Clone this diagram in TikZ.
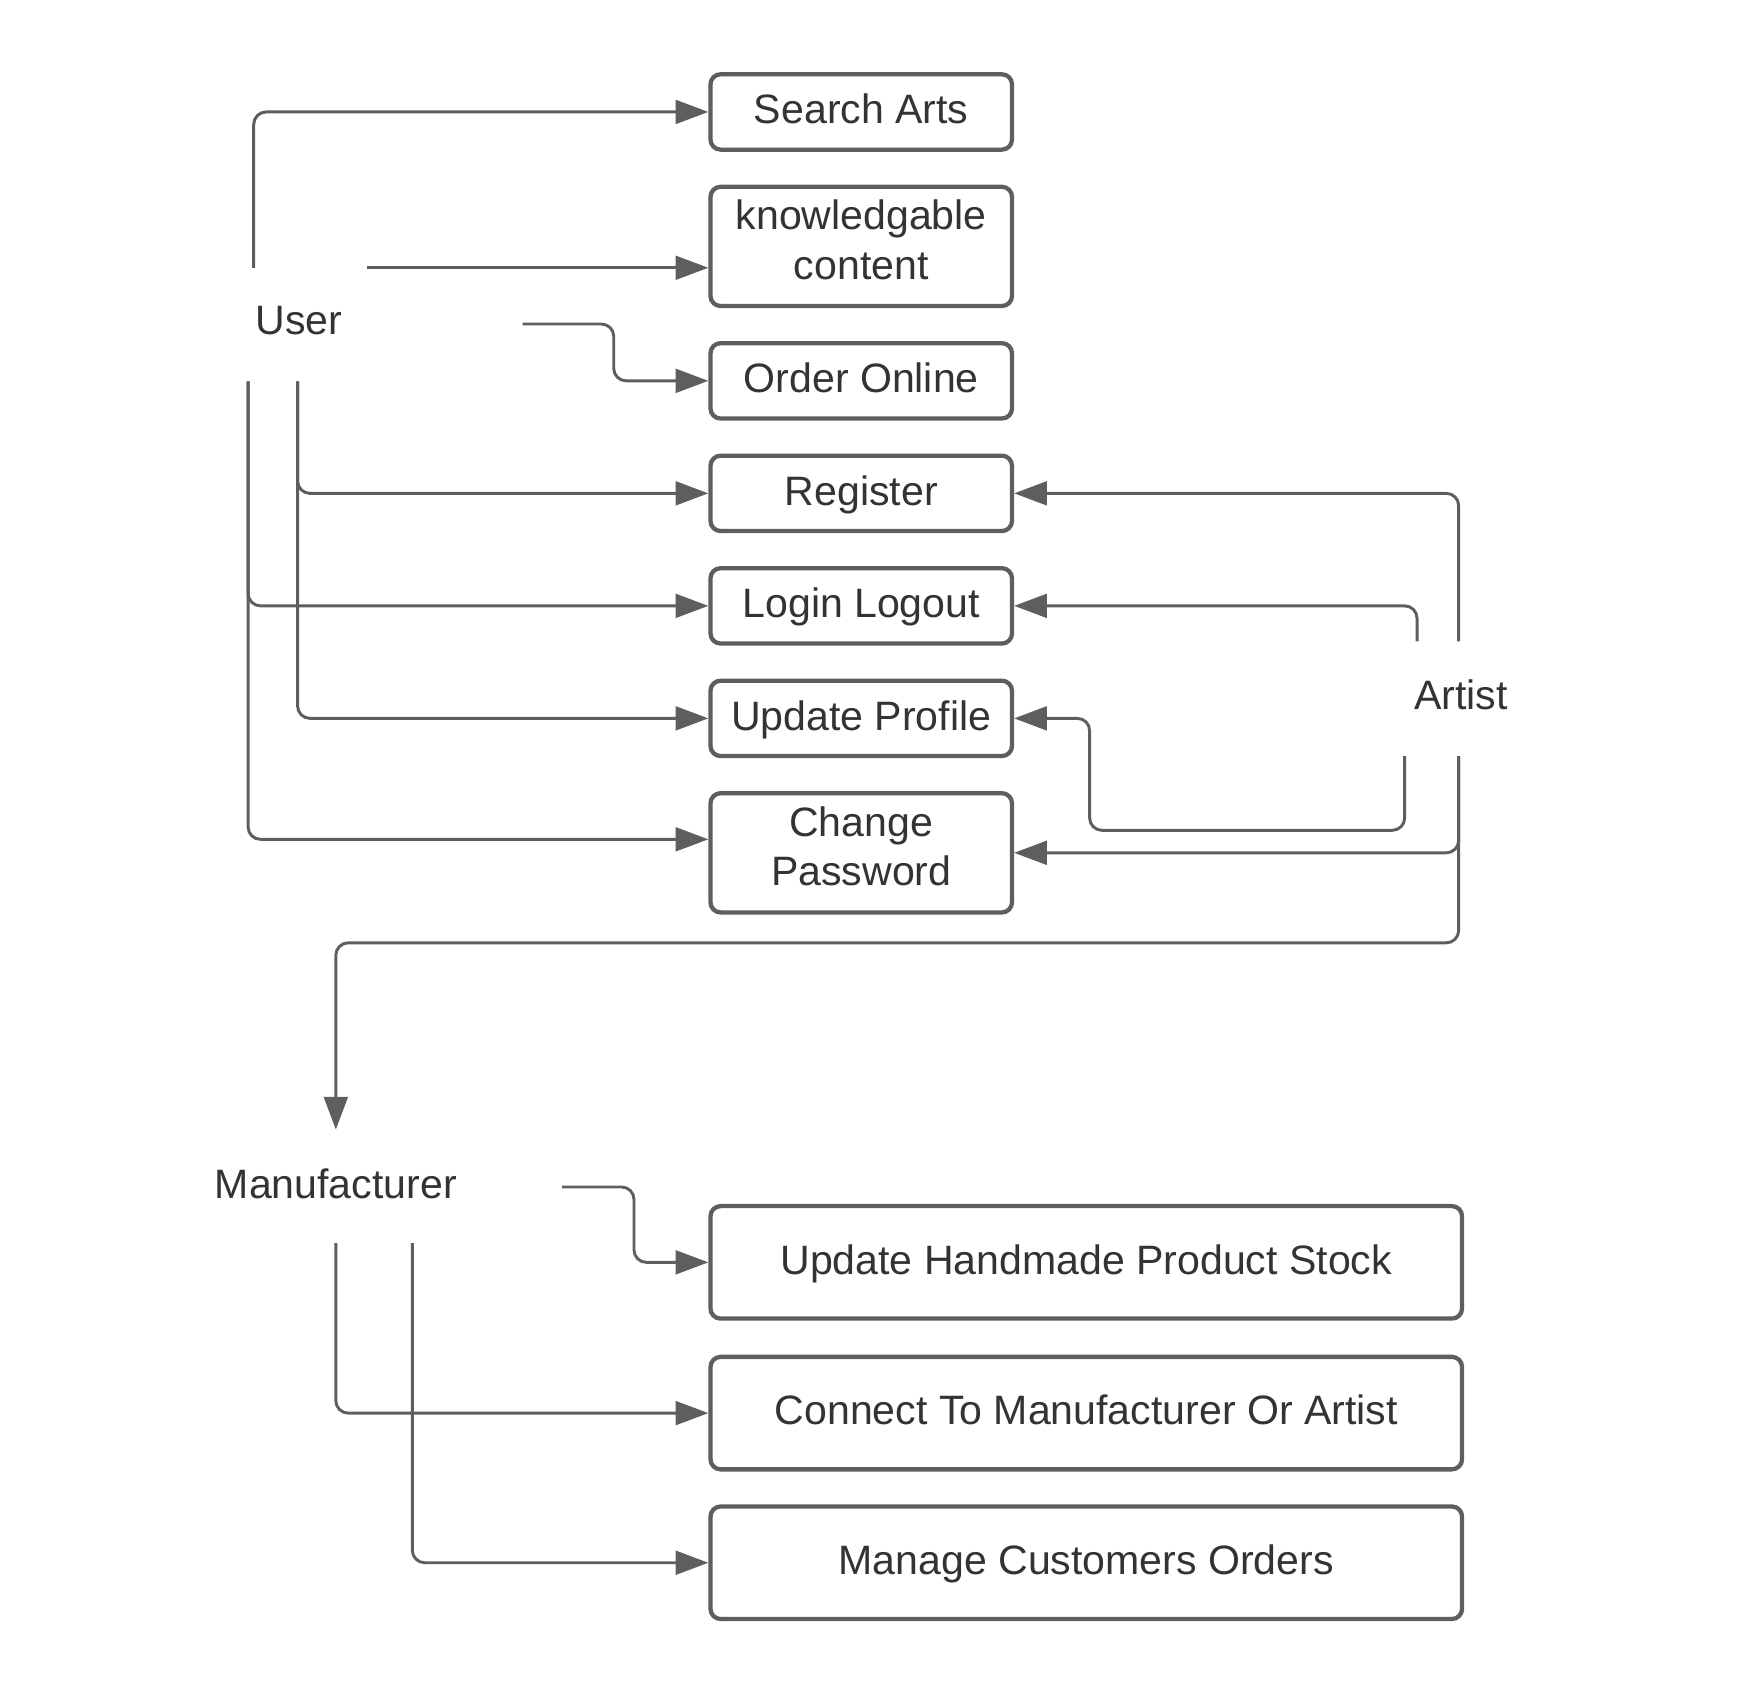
\documentclass[tikz,border=0pt]{standalone}
\usepackage{fontspec}
\setmainfont{Liberation Sans}
\usepackage{tikz}
\usetikzlibrary{calc}
\usetikzlibrary{arrows.meta}

\definecolor{edgegray}{HTML}{5E5E5E}
\definecolor{inkgray}{HTML}{333333}

\begin{document}
\begin{tikzpicture}[x=1pt, y=-1pt,
    usecase/.style={draw=edgegray, line width=3.8pt, rounded corners=9pt, text=inkgray,
        align=center, inner sep=0pt, minimum width=268pt, minimum height=67pt},
    oneline/.style={text height=30pt, text depth=9pt},
    twoline/.style={minimum height=106pt, text depth=12pt},
    actor/.style={text=inkgray, inner sep=0pt},
    link/.style={draw=edgegray, line width=2.6pt, rounded corners=11pt,
        -{Triangle[length=29pt, width=21pt]}},
    font=\fontsize{36.5pt}{44pt}\selectfont]

    \useasboundingbox (1.5,0) rectangle (1568.5,1505);

    % Use cases on the left
    \node[usecase, oneline] (search) at (767,99.5) {Search Arts};
    \node[usecase, twoline] (know) at (767,219) {knowledgable\\content};
    \node[usecase, oneline] (order) at (767,338.5) {Order Online};
    \node[usecase, oneline] (register) at (767,438.5) {Register};
    \node[usecase, oneline] (login) at (767,538.5) {Login Logout};
    \node[usecase, oneline] (profile) at (767,638.5) {Update Profile};
    \node[usecase, twoline] (password) at (767,758) {Change\\Password};

    % Use cases of the manufacturer
    \node[usecase, oneline, minimum width=668pt, minimum height=100pt] (stock) at (967,1122) {Update Handmade Product Stock};
    \node[usecase, oneline, minimum width=668pt, minimum height=100pt] (connect) at (967,1256) {Connect To Manufacturer Or Artist};
    \node[usecase, oneline, minimum width=668pt, minimum height=100pt] (orders) at (967,1389) {Manage Customers Orders};

    % Actors
    \node[actor] (user) at (267,285) {User};
    \node[actor] (artist) at (1300,618) {Artist};
    \node[actor] (maker) at (300,1052) {Manufacturer};

    % Loose ends of the links
    \coordinate (U1) at (227,238);
    \coordinate (U2) at (328,238);
    \coordinate (U3) at (466,288);
    \coordinate (U4) at (266,339);
    \coordinate (U5) at (222,339);
    \coordinate (A1) at (1298,570);
    \coordinate (A2) at (1261,570);
    \coordinate (A3) at (1250,672);
    \coordinate (A4) at (1298,672);
    \coordinate (M0) at (300,1004);
    \coordinate (M1) at (501,1055);
    \coordinate (M2) at (300,1105);
    \coordinate (M3) at (368,1105);

    % Links from the user
    \draw[link] (U1) |- (search.west);
    \draw[link] (U2) -- (U2 -| know.west);
    \draw[link] (U3) -- ++(81,0) |- (order.west);
    \draw[link] (U4) |- (register.west);
    \draw[link] (U4) |- (profile.west);
    \draw[link] (U5) |- (login.west);
    \draw[link] (U5) |- ($(password.west)+(0,-12)$);

    % Links from the artist
    \draw[link] (A1) |- (register.east);
    \draw[link] (A2) |- (login.east);
    \draw[link] (A3) |- (970,738) |- (profile.east);
    \draw[link] (A4) |- (password.east);
    \draw[link] (A4) |- (300,838) -- (M0);

    % Links from the manufacturer
    \draw[link] (M1) -- ++(64,0) |- (stock.west);
    \draw[link] (M2) |- (connect.west);
    \draw[link] (M3) |- (orders.west);

\end{tikzpicture}
\end{document}
